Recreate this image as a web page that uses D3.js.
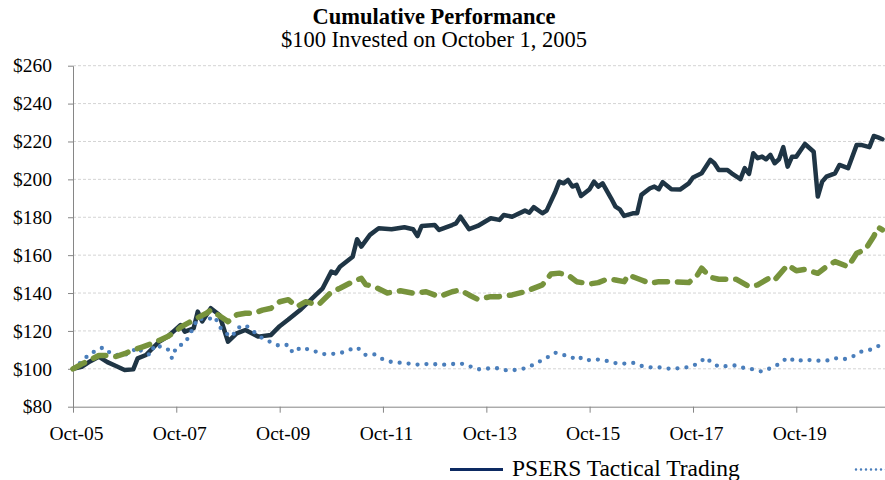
<!DOCTYPE html>
<html><head><meta charset="utf-8">
<script src="https://cdn.jsdelivr.net/npm/d3@7"></script>
<style>html,body{margin:0;padding:0;background:#fff;overflow:hidden}</style>
</head><body><svg id="chart" width="885" height="480"></svg>
<script>
// ---- DATA (months counted from October 2005) ----
const chartTitle = "Cumulative Performance";
const chartSubtitle = "$100 Invested on October 1, 2005";
const xTickLabels = ["Oct-05","Oct-07","Oct-09","Oct-11","Oct-13","Oct-15","Oct-17","Oct-19"];
const yTickValues = [80,100,120,140,160,180,200,220,240,260];

const tacticalName = "PSERS Tactical Trading";
const tacticalMonths = [0,2,4,6,8,10,12,14,15,17,20,22,25,26,28,29,30,32,34,36,38,40,43,46,48,50,53,56,58,60,61,62,65,66,67,69,71,74,77,79,80,81,84,85,88,89,90,92,94,97,99,100,102,105,106,107,109,110,112,113,114,115,116,117,118,120,121,122,123,125,126,127,128,130,131,132,134,135,136,137,139,141,143,144,146,148,149,150,152,153,155,156,157,158,159,160,161,162,163,164,165,166,167,168,170,172,173,174,175,177,178,180,182,183,185,186,187,188];
const tacticalValues = [100,101,104,106.4,103.5,101.5,99.4,99.7,105.5,107.3,114.3,117,123.1,119.6,121.4,130.2,125,132,128.4,114.3,118.7,120.5,117,117.9,122.5,126,131.5,138.1,142.5,151.3,150.4,153.9,159.2,168.4,164.5,170.7,174.2,173.7,174.7,173.7,170.1,175.4,175.9,173.3,175.9,176.8,180.3,173.7,175.4,179.5,178.6,181.2,180.3,183.5,182.4,185.3,182.1,183.5,193.5,198.8,197.9,199.7,196.2,197.1,191.2,194.8,198.8,196.2,197.9,190,185.6,184.2,180.7,182.1,182.1,191.8,195.3,196.2,194.8,198.5,194.8,194.6,197.9,201,203.2,210.3,208.5,205,205,203.2,200.1,205.9,202.9,213.8,211.2,212,210.6,212.9,208.5,210.6,217,206.7,212,212,218.7,214.6,190.9,198.8,201.4,203.2,207.6,205.9,218.2,218.2,217,222.9,222.2,221.2];

const dottedMonths = [0,2,4,5,7,9,11,13,15,16,18,19,22,23,24,26,27,28,29,31,33,34,36,37,38,40,42,44,46,48,50,51,53,56,58,60,62,64,66,68,70,72,74,76,79,81,83,85,88,90,92,94,97,99,101,104,106,108,110,112,114,116,117,119,121,123,125,127,130,132,134,136,139,141,143,145,147,148,150,152,154,156,158,160,162,164,166,168,170,172,175,177,179,181,183,185,187,188];
const dottedValues = [100,103.8,108.3,109,111.3,107.8,107,108,111.3,109,107.3,112.6,110.5,105.5,111.5,113.5,117.5,122.2,126.7,125.8,127.5,122.2,117.9,117,121.4,123.1,119.6,116.1,114,112,112.7,108.5,111.3,109.4,107.8,107.8,108.2,109.9,111.3,107.3,107.6,105,103.6,103.2,102.5,102,102.9,102,102.5,102.9,101.5,99.7,100.3,100.3,99,99.7,101.1,103.4,105.8,108.5,107.3,105.7,106.9,104.3,105,104.7,103.6,102.5,103.2,101.5,100.8,100.8,99.9,100.4,100.9,102.6,106,103.8,101.1,101.5,101.8,100.3,99.7,98.5,100.3,102.5,106,103.8,105,104.3,104.3,105.6,105,106.4,109,109.9,112,112.5];

const dashedMonths = [0,2,4,6,8,10,12,14,16,18,20,22,24,25,27,29,31,32,34,36,38,40,42,44,46,48,50,52,54,57,60,62,65,67,68,70,73,76,79,82,85,88,90,92,94,97,99,102,105,108,109,111,113,115,117,120,122,124,126,128,129,132,134,136,139,143,145,146,148,150,154,157,159,162,163,166,168,170,173,175,177,180,182,184,186,187,188];
const dashedValues = [100,102.5,104.7,107,107,106.5,108,110,111.5,113,115,117,120,122,124.5,127,129.3,131,128,124.9,128.5,129.3,129.3,131,132,135.4,136.5,132.8,135.4,133.7,140.5,142.5,146,147.8,144.5,143.4,140,141.2,139.9,140.7,138.1,140.7,141.6,139,136.7,138.1,138.1,139,140.7,143.4,144.3,150,150.5,149.5,146,144.8,145.5,147.3,146.9,146,149.5,146.9,145.1,146,146,145.5,149.5,153.1,148.3,147.3,147.3,143.4,144.3,148.3,146.9,154.8,151.8,152.5,150.4,153.9,156.6,153.9,161,163,170,174.7,173.3];

// ---- CHART ----
const W = 885;
const plotLeft = 73, plotTop = 65.7, plotBottom = 406.7;
const startDate = new Date(2005, 9, 1);
const toSeries = (months, values) => months.map((m, i) => ({date: d3.timeMonth.offset(startDate, m), v: values[i]}));

const svg = d3.select("#chart");
const serif = "'Liberation Serif', 'Times New Roman', serif";

const x = d3.scaleTime().domain([startDate, new Date(2021, 9, 1)]).range([plotLeft, 899.7]);
const y = d3.scaleLinear().domain([80, 260]).range([plotBottom, plotTop]);

// gridlines
svg.append("g").selectAll("line").data(yTickValues.filter(v => v > 80)).join("line")
  .attr("x1", plotLeft).attr("x2", W).attr("y1", d => y(d)).attr("y2", d => y(d))
  .attr("stroke", "#d4d4d4").attr("stroke-width", 1).attr("stroke-dasharray", "3,2");

// title
svg.append("text").attr("x", 434).attr("y", 24).attr("text-anchor", "middle")
  .style("font-family", serif).style("font-size", "22.5px").style("font-weight", "bold")
  .attr("fill", "#000").text(chartTitle);
svg.append("text").attr("x", 434).attr("y", 47).attr("text-anchor", "middle")
  .style("font-family", serif).style("font-size", "22.5px")
  .attr("fill", "#000").text(chartSubtitle);

// y axis
const yAxis = svg.append("g").attr("transform", `translate(${plotLeft},0)`)
  .call(d3.axisLeft(y).tickValues(yTickValues).tickSize(5).tickSizeOuter(0).tickPadding(16).tickFormat(d => "$" + d));
yAxis.select(".domain").attr("stroke", "#868686");
yAxis.selectAll(".tick line").attr("stroke", "#868686");
yAxis.selectAll("text").style("font-family", serif).style("font-size", "19.5px").attr("fill", "#000");

// x axis
const xTicks = xTickLabels.map((_, i) => new Date(2005 + 2 * i, 9, 1));
const xAxis = svg.append("g").attr("transform", `translate(0,${plotBottom})`)
  .call(d3.axisBottom(x).tickValues(xTicks).tickSize(6).tickSizeOuter(0).tickPadding(13).tickFormat((d, i) => xTickLabels[i]));
xAxis.select(".domain").attr("stroke", "#868686");
xAxis.selectAll(".tick line").attr("stroke", "#868686");
xAxis.selectAll("text").style("font-family", serif).style("font-size", "19.5px").attr("fill", "#000").attr("dx", 3);

// lines
const line = d3.line().x(d => x(d.date)).y(d => y(d.v));
svg.append("path").datum(toSeries(tacticalMonths, tacticalValues)).attr("d", line)
  .attr("fill", "none").attr("stroke", "#1f3545").attr("stroke-width", 4.5)
  .attr("stroke-linejoin", "round").attr("stroke-linecap", "round");
svg.append("path").datum(toSeries(dottedMonths, dottedValues)).attr("d", line)
  .attr("fill", "none").attr("stroke", "#4a7ebb").attr("stroke-width", 4.3)
  .attr("stroke-dasharray", "0,9").attr("stroke-linecap", "round");
svg.append("path").datum(toSeries(dashedMonths, dashedValues)).attr("d", line)
  .attr("fill", "none").attr("stroke", "#77933c").attr("stroke-width", 5.5)
  .attr("stroke-dasharray", "13,10").attr("stroke-linecap", "round").attr("stroke-linejoin", "round");

// legend
const lg = svg.append("g");
lg.append("line").attr("x1", 450).attr("x2", 503).attr("y1", 469.5).attr("y2", 469.5)
  .attr("stroke", "#0d2a62").attr("stroke-width", 3);
lg.append("text").attr("x", 512).attr("y", 476).style("font-family", serif).style("font-size", "23.5px")
  .attr("fill", "#000").text(tacticalName);
lg.append("line").attr("x1", 856).attr("x2", 890).attr("y1", 469.5).attr("y2", 469.5)
  .attr("stroke", "#4a7ebb").attr("stroke-width", 2.5).attr("stroke-dasharray", "0,5").attr("stroke-linecap", "round");
</script>
</body></html>
